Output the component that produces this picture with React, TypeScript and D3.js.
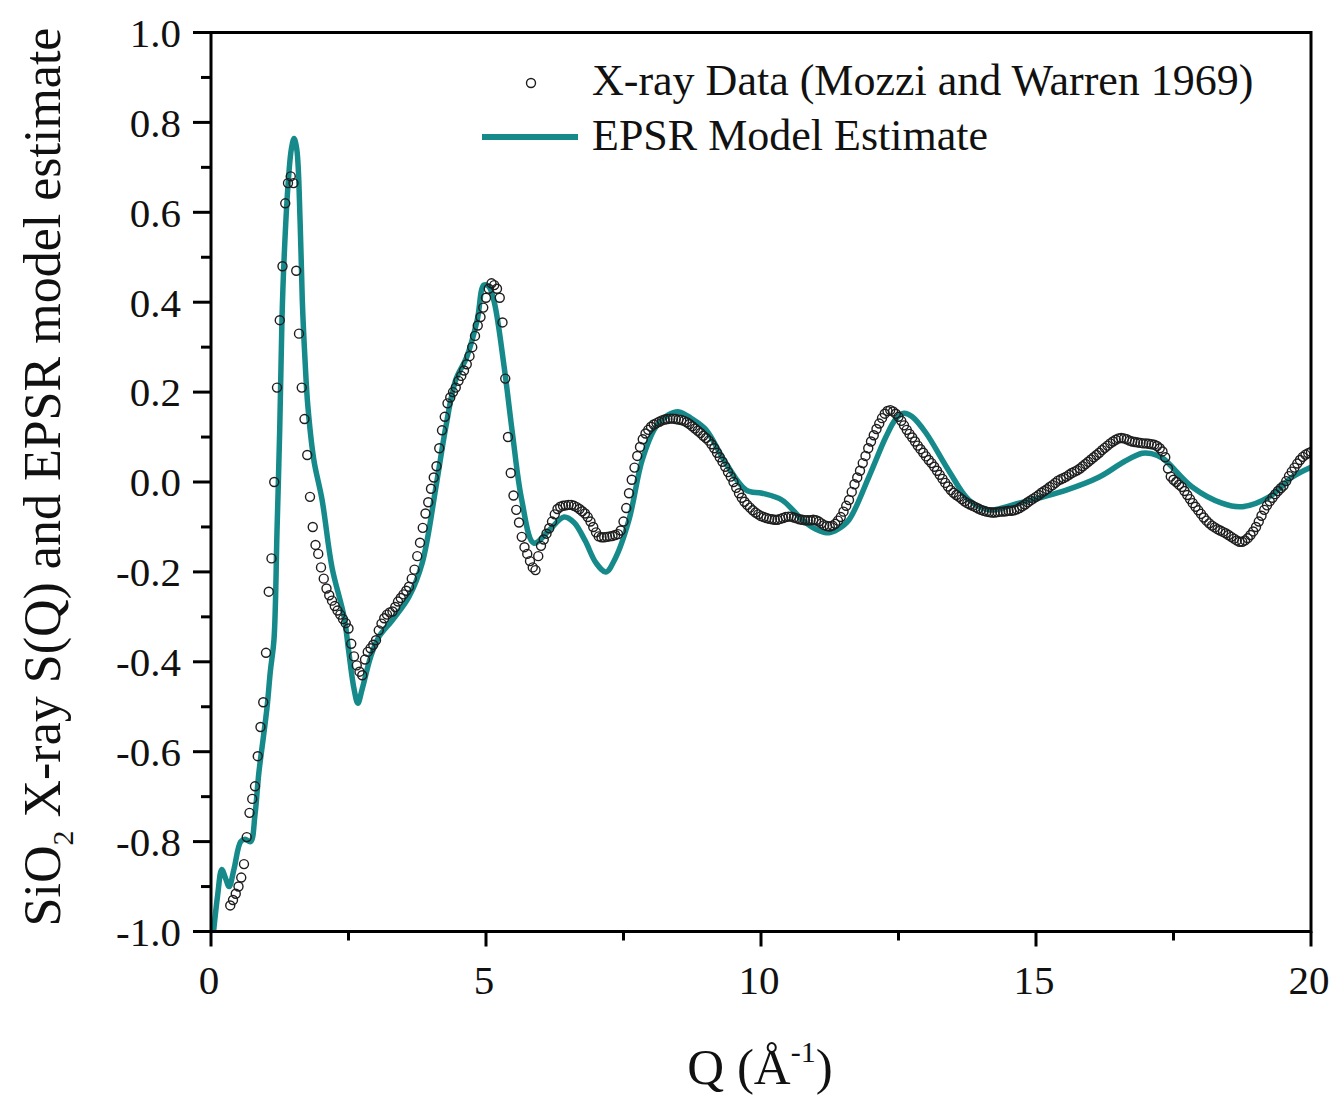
import React from "react";
import * as d3 from "d3";

// ---------- DATA ----------
// X-ray data (Mozzi and Warren 1969): [Q, S(Q)]
const xrayData: [number, number][] = [
  [0.35,-0.942],[0.40,-0.930],[0.45,-0.916],[0.50,-0.900],[0.55,-0.880],[0.60,-0.850],[0.65,-0.790],[0.70,-0.736],[0.75,-0.705],[0.80,-0.677],
  [0.85,-0.610],[0.90,-0.545],[0.95,-0.490],[1.00,-0.380],[1.05,-0.244],[1.10,-0.170],[1.15,0.000],[1.20,0.210],[1.25,0.360],[1.30,0.480],
  [1.35,0.620],[1.40,0.665],[1.45,0.680],[1.50,0.665],[1.55,0.470],[1.60,0.330],[1.65,0.210],[1.70,0.140],[1.75,0.060],[1.80,-0.033],
  [1.85,-0.100],[1.90,-0.140],[1.95,-0.160],[2.00,-0.190],[2.05,-0.215],[2.10,-0.237],[2.15,-0.252],[2.20,-0.264],[2.25,-0.276],[2.30,-0.286],
  [2.35,-0.295],[2.40,-0.305],[2.45,-0.314],[2.50,-0.326],[2.55,-0.360],[2.60,-0.388],[2.65,-0.408],[2.70,-0.422],[2.75,-0.430],[2.80,-0.395],
  [2.85,-0.378],[2.90,-0.370],[2.95,-0.362],[3.00,-0.352],[3.05,-0.330],[3.10,-0.315],[3.15,-0.303],[3.20,-0.295],[3.25,-0.290],[3.30,-0.288],
  [3.35,-0.278],[3.40,-0.266],[3.45,-0.258],[3.50,-0.250],[3.55,-0.242],[3.60,-0.233],[3.65,-0.215],[3.70,-0.195],[3.75,-0.165],[3.80,-0.135],
  [3.85,-0.102],[3.90,-0.070],[3.95,-0.045],[4.00,-0.015],[4.05,0.010],[4.10,0.035],[4.15,0.075],[4.20,0.115],[4.25,0.145],[4.30,0.175],
  [4.35,0.188],[4.40,0.200],[4.45,0.210],[4.50,0.225],[4.55,0.236],[4.60,0.248],[4.65,0.262],[4.70,0.280],[4.75,0.300],[4.80,0.325],
  [4.85,0.348],[4.90,0.367],[4.95,0.388],[5.00,0.410],[5.05,0.430],[5.10,0.442],[5.15,0.438],[5.20,0.430],[5.25,0.410],[5.30,0.355],
  [5.35,0.230],[5.40,0.100],[5.45,0.020],[5.50,-0.030],[5.55,-0.062],[5.60,-0.090],[5.65,-0.122],[5.70,-0.145],[5.75,-0.160],[5.80,-0.176],
  [5.85,-0.190],[5.90,-0.196],[5.95,-0.165],[6.00,-0.142],[6.05,-0.128],[6.10,-0.115],[6.15,-0.103],[6.20,-0.088],[6.25,-0.072],[6.30,-0.060],
  [6.35,-0.055],[6.40,-0.053],[6.45,-0.052],[6.50,-0.051],[6.55,-0.051],[6.60,-0.053],[6.65,-0.056],[6.70,-0.060],[6.75,-0.065],[6.80,-0.070],
  [6.85,-0.078],[6.90,-0.088],[6.95,-0.100],[7.00,-0.112],[7.05,-0.121],[7.10,-0.123],[7.15,-0.123],[7.20,-0.122],[7.25,-0.121],[7.30,-0.120],
  [7.35,-0.118],[7.40,-0.116],[7.45,-0.108],[7.50,-0.088],[7.55,-0.058],[7.60,-0.025],[7.65,0.005],[7.70,0.032],[7.75,0.058],[7.80,0.078],
  [7.85,0.095],[7.90,0.108],[7.95,0.116],[8.00,0.123],[8.05,0.128],[8.10,0.131],[8.15,0.134],[8.20,0.137],[8.25,0.139],[8.30,0.140],
  [8.35,0.141],[8.40,0.141],[8.45,0.140],[8.50,0.139],[8.55,0.138],[8.60,0.136],[8.65,0.133],[8.70,0.129],[8.75,0.124],[8.80,0.119],
  [8.85,0.114],[8.90,0.109],[8.95,0.103],[9.00,0.098],[9.05,0.092],[9.10,0.084],[9.15,0.075],[9.20,0.065],[9.25,0.055],[9.30,0.045],
  [9.35,0.034],[9.40,0.022],[9.45,0.012],[9.50,0.000],[9.55,-0.013],[9.60,-0.025],[9.65,-0.035],[9.70,-0.044],[9.75,-0.051],[9.80,-0.057],
  [9.85,-0.063],[9.90,-0.068],[9.95,-0.072],[10.00,-0.076],[10.05,-0.078],[10.10,-0.080],[10.15,-0.082],[10.20,-0.083],[10.25,-0.084],[10.30,-0.084],
  [10.35,-0.082],[10.40,-0.080],[10.45,-0.078],[10.50,-0.077],[10.55,-0.077],[10.60,-0.079],[10.65,-0.081],[10.70,-0.083],[10.75,-0.084],[10.80,-0.085],
  [10.85,-0.085],[10.90,-0.085],[10.95,-0.084],[11.00,-0.085],[11.05,-0.088],[11.10,-0.092],[11.15,-0.096],[11.20,-0.098],[11.25,-0.099],[11.30,-0.097],
  [11.35,-0.093],[11.40,-0.086],[11.45,-0.078],[11.50,-0.066],[11.55,-0.053],[11.60,-0.040],[11.65,-0.022],[11.70,-0.005],[11.75,0.010],[11.80,0.025],
  [11.85,0.042],[11.90,0.058],[11.95,0.075],[12.00,0.090],[12.05,0.104],[12.10,0.118],[12.15,0.130],[12.20,0.142],[12.25,0.152],[12.30,0.158],
  [12.35,0.160],[12.40,0.157],[12.45,0.152],[12.50,0.145],[12.55,0.136],[12.60,0.126],[12.65,0.116],[12.70,0.107],[12.75,0.099],[12.80,0.090],
  [12.85,0.081],[12.90,0.073],[12.95,0.065],[13.00,0.057],[13.05,0.049],[13.10,0.042],[13.15,0.034],[13.20,0.025],[13.25,0.016],[13.30,0.007],
  [13.35,-0.002],[13.40,-0.010],[13.45,-0.018],[13.50,-0.024],[13.55,-0.029],[13.60,-0.033],[13.65,-0.038],[13.70,-0.043],[13.75,-0.047],[13.80,-0.050],
  [13.85,-0.053],[13.90,-0.056],[13.95,-0.059],[14.00,-0.062],[14.05,-0.064],[14.10,-0.066],[14.15,-0.067],[14.20,-0.068],[14.25,-0.068],[14.30,-0.067],
  [14.35,-0.066],[14.40,-0.066],[14.45,-0.065],[14.50,-0.064],[14.55,-0.064],[14.60,-0.063],[14.65,-0.061],[14.70,-0.058],[14.75,-0.054],[14.80,-0.050],
  [14.85,-0.045],[14.90,-0.041],[14.95,-0.037],[15.00,-0.033],[15.05,-0.029],[15.10,-0.024],[15.15,-0.020],[15.20,-0.016],[15.25,-0.011],[15.30,-0.007],
  [15.35,-0.002],[15.40,0.003],[15.45,0.006],[15.50,0.009],[15.55,0.012],[15.60,0.016],[15.65,0.020],[15.70,0.023],[15.75,0.026],[15.80,0.030],
  [15.85,0.035],[15.90,0.040],[15.95,0.045],[16.00,0.050],[16.05,0.055],[16.10,0.060],[16.15,0.065],[16.20,0.071],[16.25,0.076],[16.30,0.081],
  [16.35,0.086],[16.40,0.090],[16.45,0.094],[16.50,0.097],[16.55,0.098],[16.60,0.097],[16.65,0.095],[16.70,0.092],[16.75,0.090],[16.80,0.089],
  [16.85,0.088],[16.90,0.087],[16.95,0.086],[17.00,0.086],[17.05,0.085],[17.10,0.084],[17.15,0.083],[17.20,0.080],[17.25,0.075],[17.30,0.068],
  [17.35,0.055],[17.40,0.030],[17.45,0.012],[17.50,0.005],[17.55,0.000],[17.60,-0.006],[17.65,-0.011],[17.70,-0.020],[17.75,-0.029],[17.80,-0.038],
  [17.85,-0.047],[17.90,-0.055],[17.95,-0.063],[18.00,-0.071],[18.05,-0.079],[18.10,-0.086],[18.15,-0.092],[18.20,-0.097],[18.25,-0.101],[18.30,-0.105],
  [18.35,-0.108],[18.40,-0.111],[18.45,-0.114],[18.50,-0.118],[18.55,-0.122],[18.60,-0.126],[18.65,-0.130],[18.70,-0.133],[18.75,-0.133],[18.80,-0.130],
  [18.85,-0.125],[18.90,-0.118],[18.95,-0.110],[19.00,-0.100],[19.05,-0.088],[19.10,-0.075],[19.15,-0.062],[19.20,-0.052],[19.25,-0.043],[19.30,-0.035],
  [19.35,-0.027],[19.40,-0.020],[19.45,-0.014],[19.50,-0.008],[19.55,0.002],[19.60,0.013],[19.65,0.023],[19.70,0.032],[19.75,0.041],[19.80,0.049],
  [19.85,0.056],[19.90,0.061],[19.95,0.064],[20.00,0.067],
];

// EPSR model estimate: [Q, S(Q)]
const epsrData: [number, number][] = [
  [0.05,-0.996],[0.12,-0.92],[0.195,-0.862],[0.26,-0.88],[0.33,-0.9],[0.42,-0.86],[0.54,-0.8],[0.62,-0.795],[0.72,-0.8],
  [0.8,-0.74],[0.87,-0.647],[0.95,-0.57],[1.02,-0.5],[1.08,-0.42],[1.145,-0.351],[1.2,-0.11],[1.25,0.12],[1.29,0.36],
  [1.33,0.5],[1.4,0.66],[1.46,0.74],[1.51,0.764],[1.56,0.74],[1.62,0.58],[1.66,0.404],[1.71,0.27],[1.76,0.17],
  [1.87,0.049],[2.02,-0.04],[2.2,-0.19],[2.42,-0.3],[2.5,-0.373],[2.6,-0.46],[2.67,-0.492],[2.75,-0.46],[2.9,-0.39],
  [3.05,-0.345],[3.3,-0.307],[3.6,-0.255],[3.84,-0.18],[4.09,-0.011],[4.27,0.123],[4.45,0.227],[4.65,0.278],[4.84,0.36],
  [4.96,0.438],[5.05,0.435],[5.15,0.4],[5.33,0.256],[5.48,0.109],[5.65,-0.04],[5.87,-0.136],[6.15,-0.107],[6.42,-0.078],
  [6.6,-0.09],[6.8,-0.13],[7.0,-0.18],[7.18,-0.2],[7.35,-0.17],[7.6,-0.084],[7.84,0.049],[8.09,0.123],[8.3,0.148],
  [8.51,0.156],[8.75,0.14],[9.0,0.116],[9.36,0.042],[9.73,-0.018],[10.02,-0.025],[10.38,-0.04],[10.75,-0.084],[11.0,-0.105],
  [11.24,-0.113],[11.4,-0.105],[11.6,-0.084],[11.96,0.011],[12.27,0.1],[12.45,0.14],[12.6,0.153],[12.75,0.145],[13.0,0.109],
  [13.42,0.024],[13.78,-0.04],[14.15,-0.062],[14.69,-0.047],[15.55,-0.018],[16.15,0.011],[16.6,0.045],[16.93,0.064],
  [17.1,0.063],[17.3,0.053],[17.84,-0.011],[18.38,-0.047],[18.75,-0.055],[19.24,-0.033],[19.66,0.011],[20.0,0.033],
];

const xMajorTicks = [0, 5, 10, 15, 20];
const xMinorTicks = [2.5, 7.5, 12.5, 17.5];
const yMajorTicks = [-1.0, -0.8, -0.6, -0.4, -0.2, 0.0, 0.2, 0.4, 0.6, 0.8, 1.0];
const yMinorTicks = [-0.9, -0.7, -0.5, -0.3, -0.1, 0.1, 0.3, 0.5, 0.7, 0.9];
const legendLabels = ["X-ray Data (Mozzi and Warren 1969)", "EPSR Model Estimate"];

// ---------- LAYOUT ----------
const W = 1339;
const H = 1099;
const left = 211;
const right = 1311;
const top = 32.5;
const bottom = 931.5;
const TEAL = "#168a8a";
const FONT = "'Liberation Serif', 'Times New Roman', Times, serif";

export default function App() {
  const x = d3.scaleLinear().domain([0, 20]).range([left, right]);
  const y = d3.scaleLinear().domain([-1, 1]).range([bottom, top]);
  const line = d3
    .line<[number, number]>()
    .x((d) => x(d[0]))
    .y((d) => y(d[1]))
    .curve(d3.curveCatmullRom.alpha(0.5));

  return (
    <svg
      width={W}
      height={H}
      style={{ position: "absolute", left: 0, top: 0, background: "#fff" }}
      fontFamily={FONT}
    >
      <defs>
        <clipPath id="plotClip">
          <rect x={left} y={top - 2} width={right - left} height={bottom - top + 2} />
        </clipPath>
      </defs>

      {/* model line */}
      <path
        d={line(epsrData) || ""}
        fill="none"
        stroke={TEAL}
        strokeWidth={5.5}
        strokeLinejoin="round"
        strokeLinecap="round"
        clipPath="url(#plotClip)"
      />

      {/* data circles */}
      <g clipPath="url(#plotClip)">
        {xrayData.map((d, i) => (
          <circle
            key={i}
            cx={x(d[0])}
            cy={y(d[1])}
            r={4.5}
            fill="none"
            stroke="#1e1e1e"
            strokeWidth={1.4}
          />
        ))}
      </g>

      {/* frame */}
      <rect
        x={left}
        y={top}
        width={right - left}
        height={bottom - top}
        fill="none"
        stroke="#000"
        strokeWidth={3}
      />

      {/* y ticks */}
      {yMajorTicks.map((t) => (
        <g key={"ym" + t}>
          <line x1={left - 18} x2={left} y1={y(t)} y2={y(t)} stroke="#000" strokeWidth={3} />
          <text
            x={181}
            y={y(t)}
            dy="0.35em"
            textAnchor="end"
            fontSize={41}
            fill="#111"
          >
            {t.toFixed(1)}
          </text>
        </g>
      ))}
      {yMinorTicks.map((t) => (
        <line key={"yn" + t} x1={left - 10} x2={left} y1={y(t)} y2={y(t)} stroke="#000" strokeWidth={3} />
      ))}

      {/* x ticks */}
      {xMajorTicks.map((t) => (
        <g key={"xm" + t}>
          <line x1={x(t)} x2={x(t)} y1={bottom} y2={bottom + 15} stroke="#000" strokeWidth={3} />
          <text x={x(t) - 2} y={994} textAnchor="middle" fontSize={41} fill="#111">
            {t}
          </text>
        </g>
      ))}
      {xMinorTicks.map((t) => (
        <line key={"xn" + t} x1={x(t)} x2={x(t)} y1={bottom} y2={bottom + 9} stroke="#000" strokeWidth={3} />
      ))}

      {/* x title */}
      <text x={760} y={1084} textAnchor="middle" fontSize={51} fill="#111">
        Q (Å
        <tspan fontSize={30} dy={-22}>-1</tspan>
        <tspan dy={22}>)</tspan>
      </text>

      {/* y title */}
      <text
        transform={`translate(60, 477) rotate(-90)`}
        textAnchor="middle"
        fontSize={52}
        fill="#111"
      >
        SiO
        <tspan fontSize={30} dy={13}>2</tspan>
        <tspan dy={-13}> X-ray S(Q) and EPSR model estimate</tspan>
      </text>

      {/* legend */}
      <circle cx={531} cy={83} r={4.5} fill="none" stroke="#1e1e1e" strokeWidth={1.4} />
      <text x={592} y={95} fontSize={44} fill="#111">
        {legendLabels[0]}
      </text>
      <line x1={482} x2={578} y1={137} y2={137} stroke={TEAL} strokeWidth={6} />
      <text x={592} y={150} fontSize={44} fill="#111">
        {legendLabels[1]}
      </text>
    </svg>
  );
}
